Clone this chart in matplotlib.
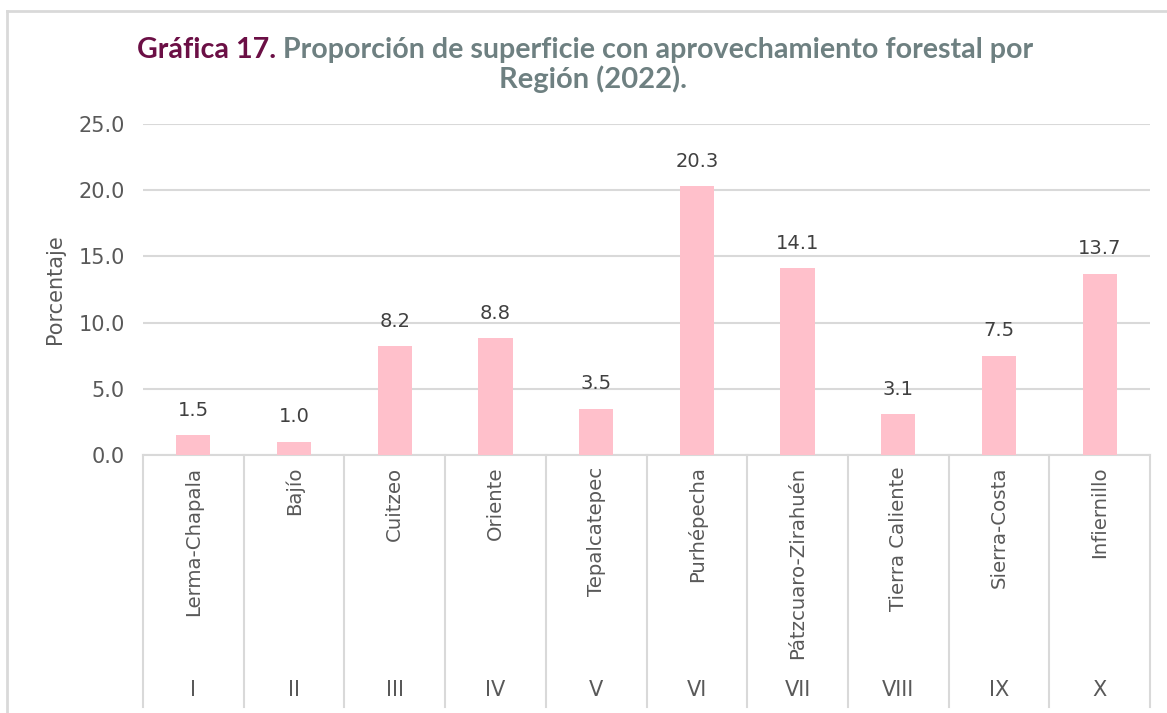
import matplotlib
matplotlib.use("Agg")
import matplotlib.pyplot as plt
import matplotlib.transforms as mtransforms
from matplotlib.lines import Line2D

# data
regiones = ["Lerma-Chapala", "Bajío", "Cuitzeo", "Oriente", "Tepalcatepec",
            "Purhépecha", "Pátzcuaro-Zirahuén", "Tierra Caliente", "Sierra-Costa",
            "Infiernillo"]
numerales = ["I", "II", "III", "IV", "V", "VI", "VII", "VIII", "IX", "X"]
porcentaje = [1.5, 1.0, 8.2, 8.8, 3.5, 20.3, 14.1, 3.1, 7.5, 13.7]
yticks = [0, 5, 10, 15, 20, 25]

texto = "#595959"
rejilla = "#D9D9D9"
rosa = "#FFC0CB"

plt.rcParams["font.family"] = ["DejaVu Sans"]

fig = plt.figure(figsize=(11.67, 7.13), dpi=100)
ax = fig.add_axes([143 / 1167, 1 - 455 / 713, (1150 - 143) / 1167, (455 - 124) / 713])

x = list(range(len(regiones)))
bars = ax.bar(x, porcentaje, width=0.34, color=rosa, zorder=3)
for b, v in zip(bars, porcentaje):
    ax.annotate(f"{v:.1f}", (b.get_x() + b.get_width() / 2, v), xytext=(0, 11),
                textcoords="offset points", ha="center", va="bottom",
                fontsize=14, color="#404040")

ax.set_xlim(-0.5, len(regiones) - 0.5)
ax.set_ylim(0, 25)
ax.set_yticks(yticks)
ax.set_yticklabels([f"{t:.1f}" for t in yticks])
ax.tick_params(axis="y", length=0, pad=13, labelsize=15, labelcolor=texto)
ax.set_xticks([])
ax.yaxis.grid(True, color=rejilla, lw=1.5, zorder=0)
for s in ["top", "right", "left"]:
    ax.spines[s].set_visible(False)
ax.spines["bottom"].set_color(rejilla)
ax.spines["bottom"].set_linewidth(1.5)
ax.set_ylabel("Porcentaje", fontsize=15, color=texto, labelpad=10)

# two-level category axis
trans = mtransforms.blended_transform_factory(ax.transData, ax.transAxes)
for i in range(len(regiones) + 1):
    ax.plot([i - 0.5, i - 0.5], [0, -0.76], transform=trans, color=rejilla,
            lw=1.5, clip_on=False)
for i, (r, n) in enumerate(zip(regiones, numerales)):
    ax.text(i, -0.035, r, transform=trans, rotation=90, ha="center", va="top",
            fontsize=14.2, color=texto)
    ax.text(i, -0.71, n, transform=trans, ha="center", va="center",
            fontsize=15, color=texto)

# title in two colours
t1 = fig.text(137 / 1167, 1 - 58 / 713, "Gráfica 17.", fontsize=20.6,
              fontweight="bold", color="#6B0F45", family="Lato", va="baseline")
ax.annotate(" Proporción de superficie con aprovechamiento forestal por",
            xy=(1, 0), xycoords=t1, va="bottom", ha="left", fontsize=20.6,
            fontweight="bold", color="#6E8081", family="Lato",
            annotation_clip=False)
fig.text(593 / 1167, 1 - 88 / 713, "Región (2022).", fontsize=21,
         fontweight="bold", color="#6E8081", family="Lato", ha="center",
         va="baseline")

# figure frame
fig.add_artist(Line2D([7 / 1167, 7 / 1167], [0, 1 - 11 / 713], color=rejilla, lw=2))
fig.add_artist(Line2D([7 / 1167, 1], [1 - 11 / 713, 1 - 11 / 713], color=rejilla, lw=2))

fig.savefig("out.png", dpi=100)
